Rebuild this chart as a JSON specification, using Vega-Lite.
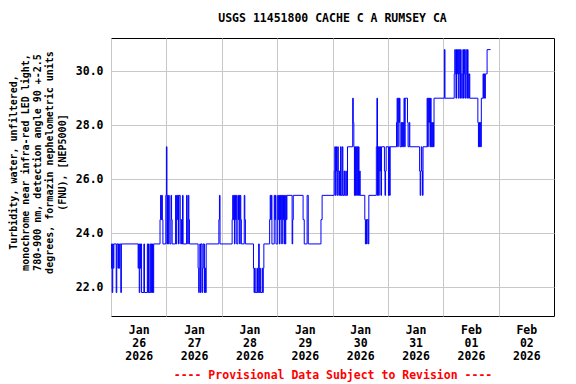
{
  "$schema": "https://vega.github.io/schema/vega-lite/v6.json",
  "width": 443,
  "height": 278,
  "autosize": {"type": "none"},
  "padding": {"left": 111, "top": 38, "right": 22, "bottom": 68},
  "background": "white",
  "config": {
    "view": {"stroke": "black", "strokeWidth": 1},
    "font": "DejaVu Sans Mono"
  },
  "title": {
    "text": "USGS 11451800 CACHE C A RUMSEY CA",
    "font": "DejaVu Sans Mono",
    "fontSize": 11.5,
    "fontWeight": "bold",
    "color": "black",
    "anchor": "middle",
    "offset": 14
  },
  "data": {
    "values": [
      {"t": "2026-01-26T00:00", "v": 22.7},
      {"t": "2026-01-26T00:15", "v": 23.6},
      {"t": "2026-01-26T00:30", "v": 21.8},
      {"t": "2026-01-26T00:45", "v": 23.6},
      {"t": "2026-01-26T01:00", "v": 22.7},
      {"t": "2026-01-26T01:15", "v": 23.6},
      {"t": "2026-01-26T02:15", "v": 21.8},
      {"t": "2026-01-26T02:30", "v": 23.6},
      {"t": "2026-01-26T03:00", "v": 22.7},
      {"t": "2026-01-26T03:15", "v": 23.6},
      {"t": "2026-01-26T03:30", "v": 22.7},
      {"t": "2026-01-26T03:45", "v": 23.6},
      {"t": "2026-01-26T04:15", "v": 21.8},
      {"t": "2026-01-26T04:30", "v": 23.6},
      {"t": "2026-01-26T11:45", "v": 22.7},
      {"t": "2026-01-26T12:00", "v": 23.6},
      {"t": "2026-01-26T12:15", "v": 21.8},
      {"t": "2026-01-26T12:30", "v": 23.6},
      {"t": "2026-01-26T12:45", "v": 22.7},
      {"t": "2026-01-26T13:00", "v": 23.6},
      {"t": "2026-01-26T13:15", "v": 21.8},
      {"t": "2026-01-26T14:15", "v": 23.6},
      {"t": "2026-01-26T14:30", "v": 21.8},
      {"t": "2026-01-26T15:45", "v": 23.6},
      {"t": "2026-01-26T16:00", "v": 21.8},
      {"t": "2026-01-26T16:15", "v": 23.6},
      {"t": "2026-01-26T16:30", "v": 21.8},
      {"t": "2026-01-26T17:00", "v": 23.6},
      {"t": "2026-01-26T17:15", "v": 21.8},
      {"t": "2026-01-26T17:30", "v": 23.6},
      {"t": "2026-01-26T17:45", "v": 21.8},
      {"t": "2026-01-26T18:00", "v": 23.6},
      {"t": "2026-01-26T18:15", "v": 21.8},
      {"t": "2026-01-26T18:30", "v": 23.6},
      {"t": "2026-01-26T21:15", "v": 24.5},
      {"t": "2026-01-26T21:30", "v": 25.4},
      {"t": "2026-01-26T21:45", "v": 24.5},
      {"t": "2026-01-26T22:00", "v": 25.4},
      {"t": "2026-01-26T22:15", "v": 24.5},
      {"t": "2026-01-26T22:30", "v": 23.6},
      {"t": "2026-01-26T23:45", "v": 25.4},
      {"t": "2026-01-27T00:00", "v": 27.2},
      {"t": "2026-01-27T00:15", "v": 23.6},
      {"t": "2026-01-27T00:30", "v": 25.4},
      {"t": "2026-01-27T00:45", "v": 23.6},
      {"t": "2026-01-27T01:00", "v": 25.4},
      {"t": "2026-01-27T01:15", "v": 24.5},
      {"t": "2026-01-27T01:30", "v": 23.6},
      {"t": "2026-01-27T02:00", "v": 25.4},
      {"t": "2026-01-27T02:15", "v": 24.5},
      {"t": "2026-01-27T02:30", "v": 23.6},
      {"t": "2026-01-27T04:00", "v": 25.4},
      {"t": "2026-01-27T04:15", "v": 23.6},
      {"t": "2026-01-27T04:30", "v": 25.4},
      {"t": "2026-01-27T04:45", "v": 24.5},
      {"t": "2026-01-27T05:00", "v": 25.4},
      {"t": "2026-01-27T05:15", "v": 23.6},
      {"t": "2026-01-27T05:30", "v": 25.4},
      {"t": "2026-01-27T06:00", "v": 24.5},
      {"t": "2026-01-27T06:15", "v": 23.6},
      {"t": "2026-01-27T06:30", "v": 24.5},
      {"t": "2026-01-27T06:45", "v": 23.6},
      {"t": "2026-01-27T07:00", "v": 25.4},
      {"t": "2026-01-27T07:15", "v": 23.6},
      {"t": "2026-01-27T08:45", "v": 25.4},
      {"t": "2026-01-27T09:00", "v": 24.5},
      {"t": "2026-01-27T09:15", "v": 23.6},
      {"t": "2026-01-27T09:30", "v": 25.4},
      {"t": "2026-01-27T09:45", "v": 24.5},
      {"t": "2026-01-27T10:00", "v": 23.6},
      {"t": "2026-01-27T13:45", "v": 22.7},
      {"t": "2026-01-27T14:00", "v": 21.8},
      {"t": "2026-01-27T14:15", "v": 22.7},
      {"t": "2026-01-27T14:30", "v": 23.6},
      {"t": "2026-01-27T14:45", "v": 21.8},
      {"t": "2026-01-27T15:00", "v": 23.6},
      {"t": "2026-01-27T15:30", "v": 21.8},
      {"t": "2026-01-27T15:45", "v": 22.7},
      {"t": "2026-01-27T16:00", "v": 23.6},
      {"t": "2026-01-27T16:30", "v": 21.8},
      {"t": "2026-01-27T16:45", "v": 22.7},
      {"t": "2026-01-27T17:00", "v": 21.8},
      {"t": "2026-01-27T17:15", "v": 23.6},
      {"t": "2026-01-27T22:45", "v": 24.5},
      {"t": "2026-01-27T23:00", "v": 25.4},
      {"t": "2026-01-27T23:15", "v": 23.6},
      {"t": "2026-01-28T04:30", "v": 24.5},
      {"t": "2026-01-28T04:45", "v": 25.4},
      {"t": "2026-01-28T05:00", "v": 24.5},
      {"t": "2026-01-28T05:15", "v": 25.4},
      {"t": "2026-01-28T05:30", "v": 23.6},
      {"t": "2026-01-28T05:45", "v": 25.4},
      {"t": "2026-01-28T06:00", "v": 24.5},
      {"t": "2026-01-28T06:15", "v": 25.4},
      {"t": "2026-01-28T06:30", "v": 23.6},
      {"t": "2026-01-28T07:00", "v": 25.4},
      {"t": "2026-01-28T07:15", "v": 24.5},
      {"t": "2026-01-28T07:30", "v": 25.4},
      {"t": "2026-01-28T07:45", "v": 23.6},
      {"t": "2026-01-28T08:00", "v": 25.4},
      {"t": "2026-01-28T08:15", "v": 24.5},
      {"t": "2026-01-28T08:30", "v": 23.6},
      {"t": "2026-01-28T09:45", "v": 25.4},
      {"t": "2026-01-28T10:00", "v": 24.5},
      {"t": "2026-01-28T10:15", "v": 23.6},
      {"t": "2026-01-28T13:45", "v": 22.7},
      {"t": "2026-01-28T14:00", "v": 21.8},
      {"t": "2026-01-28T14:15", "v": 22.7},
      {"t": "2026-01-28T14:30", "v": 21.8},
      {"t": "2026-01-28T15:15", "v": 22.7},
      {"t": "2026-01-28T15:30", "v": 21.8},
      {"t": "2026-01-28T16:00", "v": 23.6},
      {"t": "2026-01-28T16:15", "v": 21.8},
      {"t": "2026-01-28T16:30", "v": 22.7},
      {"t": "2026-01-28T16:45", "v": 21.8},
      {"t": "2026-01-28T17:30", "v": 22.7},
      {"t": "2026-01-28T17:45", "v": 21.8},
      {"t": "2026-01-28T18:00", "v": 22.7},
      {"t": "2026-01-28T18:15", "v": 23.6},
      {"t": "2026-01-28T20:45", "v": 24.5},
      {"t": "2026-01-28T21:00", "v": 25.4},
      {"t": "2026-01-28T21:15", "v": 24.5},
      {"t": "2026-01-28T21:30", "v": 25.4},
      {"t": "2026-01-28T21:45", "v": 23.6},
      {"t": "2026-01-28T22:45", "v": 25.4},
      {"t": "2026-01-28T23:00", "v": 24.5},
      {"t": "2026-01-28T23:15", "v": 25.4},
      {"t": "2026-01-28T23:30", "v": 23.6},
      {"t": "2026-01-29T00:15", "v": 25.4},
      {"t": "2026-01-29T00:30", "v": 24.5},
      {"t": "2026-01-29T00:45", "v": 25.4},
      {"t": "2026-01-29T01:00", "v": 23.6},
      {"t": "2026-01-29T01:15", "v": 25.4},
      {"t": "2026-01-29T01:30", "v": 24.5},
      {"t": "2026-01-29T01:45", "v": 25.4},
      {"t": "2026-01-29T02:00", "v": 23.6},
      {"t": "2026-01-29T02:15", "v": 25.4},
      {"t": "2026-01-29T02:30", "v": 24.5},
      {"t": "2026-01-29T02:45", "v": 25.4},
      {"t": "2026-01-29T03:00", "v": 23.6},
      {"t": "2026-01-29T03:15", "v": 25.4},
      {"t": "2026-01-29T03:30", "v": 23.6},
      {"t": "2026-01-29T03:45", "v": 25.4},
      {"t": "2026-01-29T04:00", "v": 24.5},
      {"t": "2026-01-29T04:15", "v": 25.4},
      {"t": "2026-01-29T06:30", "v": 23.6},
      {"t": "2026-01-29T06:45", "v": 24.5},
      {"t": "2026-01-29T07:00", "v": 25.4},
      {"t": "2026-01-29T11:15", "v": 24.5},
      {"t": "2026-01-29T11:45", "v": 23.6},
      {"t": "2026-01-29T13:00", "v": 25.4},
      {"t": "2026-01-29T13:30", "v": 23.6},
      {"t": "2026-01-29T19:00", "v": 24.5},
      {"t": "2026-01-29T19:30", "v": 25.4},
      {"t": "2026-01-30T00:45", "v": 26.3},
      {"t": "2026-01-30T01:00", "v": 27.2},
      {"t": "2026-01-30T01:15", "v": 25.4},
      {"t": "2026-01-30T01:30", "v": 27.2},
      {"t": "2026-01-30T01:45", "v": 26.3},
      {"t": "2026-01-30T02:00", "v": 25.4},
      {"t": "2026-01-30T02:15", "v": 27.2},
      {"t": "2026-01-30T02:30", "v": 26.3},
      {"t": "2026-01-30T02:45", "v": 25.4},
      {"t": "2026-01-30T03:00", "v": 26.3},
      {"t": "2026-01-30T03:15", "v": 25.4},
      {"t": "2026-01-30T03:30", "v": 27.2},
      {"t": "2026-01-30T03:45", "v": 25.4},
      {"t": "2026-01-30T04:15", "v": 27.2},
      {"t": "2026-01-30T04:30", "v": 25.4},
      {"t": "2026-01-30T05:00", "v": 26.3},
      {"t": "2026-01-30T05:15", "v": 25.4},
      {"t": "2026-01-30T05:45", "v": 26.3},
      {"t": "2026-01-30T06:00", "v": 25.4},
      {"t": "2026-01-30T06:30", "v": 27.2},
      {"t": "2026-01-30T08:45", "v": 29.0},
      {"t": "2026-01-30T09:00", "v": 28.1},
      {"t": "2026-01-30T09:15", "v": 27.2},
      {"t": "2026-01-30T09:30", "v": 25.4},
      {"t": "2026-01-30T09:45", "v": 27.2},
      {"t": "2026-01-30T10:00", "v": 25.4},
      {"t": "2026-01-30T10:15", "v": 27.2},
      {"t": "2026-01-30T10:30", "v": 25.4},
      {"t": "2026-01-30T10:45", "v": 27.2},
      {"t": "2026-01-30T11:00", "v": 25.4},
      {"t": "2026-01-30T11:15", "v": 27.2},
      {"t": "2026-01-30T11:30", "v": 25.4},
      {"t": "2026-01-30T11:45", "v": 26.3},
      {"t": "2026-01-30T12:00", "v": 25.4},
      {"t": "2026-01-30T14:00", "v": 24.5},
      {"t": "2026-01-30T14:15", "v": 23.6},
      {"t": "2026-01-30T14:30", "v": 24.5},
      {"t": "2026-01-30T14:45", "v": 23.6},
      {"t": "2026-01-30T15:00", "v": 24.5},
      {"t": "2026-01-30T15:30", "v": 23.6},
      {"t": "2026-01-30T15:45", "v": 25.4},
      {"t": "2026-01-30T19:00", "v": 27.2},
      {"t": "2026-01-30T19:15", "v": 29.0},
      {"t": "2026-01-30T19:30", "v": 25.4},
      {"t": "2026-01-30T19:45", "v": 27.2},
      {"t": "2026-01-30T20:00", "v": 25.4},
      {"t": "2026-01-30T20:15", "v": 27.2},
      {"t": "2026-01-30T20:30", "v": 26.3},
      {"t": "2026-01-30T20:45", "v": 27.2},
      {"t": "2026-01-30T21:00", "v": 25.4},
      {"t": "2026-01-30T21:15", "v": 27.2},
      {"t": "2026-01-30T22:30", "v": 26.3},
      {"t": "2026-01-30T22:45", "v": 25.4},
      {"t": "2026-01-30T23:00", "v": 26.3},
      {"t": "2026-01-30T23:15", "v": 27.2},
      {"t": "2026-01-31T00:15", "v": 25.4},
      {"t": "2026-01-31T00:30", "v": 27.2},
      {"t": "2026-01-31T00:45", "v": 25.4},
      {"t": "2026-01-31T01:00", "v": 27.2},
      {"t": "2026-01-31T03:45", "v": 28.1},
      {"t": "2026-01-31T04:00", "v": 29.0},
      {"t": "2026-01-31T04:15", "v": 27.2},
      {"t": "2026-01-31T04:30", "v": 29.0},
      {"t": "2026-01-31T04:45", "v": 28.1},
      {"t": "2026-01-31T05:00", "v": 29.0},
      {"t": "2026-01-31T05:15", "v": 27.2},
      {"t": "2026-01-31T05:45", "v": 28.1},
      {"t": "2026-01-31T06:00", "v": 27.2},
      {"t": "2026-01-31T06:15", "v": 28.1},
      {"t": "2026-01-31T06:30", "v": 27.2},
      {"t": "2026-01-31T06:45", "v": 28.1},
      {"t": "2026-01-31T07:00", "v": 29.0},
      {"t": "2026-01-31T07:15", "v": 27.2},
      {"t": "2026-01-31T07:30", "v": 29.0},
      {"t": "2026-01-31T08:30", "v": 28.1},
      {"t": "2026-01-31T08:45", "v": 27.2},
      {"t": "2026-01-31T09:15", "v": 28.1},
      {"t": "2026-01-31T09:30", "v": 27.2},
      {"t": "2026-01-31T13:45", "v": 26.3},
      {"t": "2026-01-31T14:00", "v": 25.4},
      {"t": "2026-01-31T14:15", "v": 26.3},
      {"t": "2026-01-31T14:30", "v": 27.2},
      {"t": "2026-01-31T14:45", "v": 26.3},
      {"t": "2026-01-31T15:00", "v": 25.4},
      {"t": "2026-01-31T15:15", "v": 27.2},
      {"t": "2026-01-31T17:00", "v": 29.0},
      {"t": "2026-01-31T17:15", "v": 27.2},
      {"t": "2026-01-31T17:30", "v": 29.0},
      {"t": "2026-01-31T17:45", "v": 28.1},
      {"t": "2026-01-31T18:00", "v": 29.0},
      {"t": "2026-01-31T18:15", "v": 27.2},
      {"t": "2026-01-31T18:30", "v": 29.0},
      {"t": "2026-01-31T18:45", "v": 27.2},
      {"t": "2026-01-31T19:00", "v": 28.1},
      {"t": "2026-01-31T19:15", "v": 27.2},
      {"t": "2026-01-31T19:30", "v": 28.1},
      {"t": "2026-01-31T19:45", "v": 27.2},
      {"t": "2026-01-31T20:00", "v": 29.0},
      {"t": "2026-02-01T00:30", "v": 30.8},
      {"t": "2026-02-01T00:45", "v": 29.0},
      {"t": "2026-02-01T04:45", "v": 29.9},
      {"t": "2026-02-01T05:00", "v": 30.8},
      {"t": "2026-02-01T05:15", "v": 29.9},
      {"t": "2026-02-01T05:30", "v": 29.0},
      {"t": "2026-02-01T05:45", "v": 30.8},
      {"t": "2026-02-01T06:00", "v": 29.9},
      {"t": "2026-02-01T06:15", "v": 30.8},
      {"t": "2026-02-01T06:30", "v": 29.0},
      {"t": "2026-02-01T06:45", "v": 30.8},
      {"t": "2026-02-01T07:00", "v": 29.9},
      {"t": "2026-02-01T07:15", "v": 29.0},
      {"t": "2026-02-01T07:30", "v": 30.8},
      {"t": "2026-02-01T07:45", "v": 29.9},
      {"t": "2026-02-01T08:00", "v": 29.0},
      {"t": "2026-02-01T08:15", "v": 29.9},
      {"t": "2026-02-01T08:30", "v": 30.8},
      {"t": "2026-02-01T08:45", "v": 29.0},
      {"t": "2026-02-01T09:00", "v": 30.8},
      {"t": "2026-02-01T09:15", "v": 29.9},
      {"t": "2026-02-01T09:30", "v": 29.0},
      {"t": "2026-02-01T09:45", "v": 30.8},
      {"t": "2026-02-01T10:00", "v": 29.9},
      {"t": "2026-02-01T10:15", "v": 29.0},
      {"t": "2026-02-01T10:30", "v": 30.8},
      {"t": "2026-02-01T10:45", "v": 29.9},
      {"t": "2026-02-01T11:00", "v": 29.0},
      {"t": "2026-02-01T11:15", "v": 29.9},
      {"t": "2026-02-01T11:30", "v": 29.0},
      {"t": "2026-02-01T15:00", "v": 28.1},
      {"t": "2026-02-01T15:15", "v": 27.2},
      {"t": "2026-02-01T15:30", "v": 28.1},
      {"t": "2026-02-01T15:45", "v": 27.2},
      {"t": "2026-02-01T16:00", "v": 28.1},
      {"t": "2026-02-01T16:15", "v": 27.2},
      {"t": "2026-02-01T16:30", "v": 29.0},
      {"t": "2026-02-01T17:15", "v": 29.9},
      {"t": "2026-02-01T17:30", "v": 29.0},
      {"t": "2026-02-01T17:45", "v": 29.9},
      {"t": "2026-02-01T18:00", "v": 29.0},
      {"t": "2026-02-01T18:15", "v": 29.9},
      {"t": "2026-02-01T19:00", "v": 30.8},
      {"t": "2026-02-01T20:30", "v": 30.8}
    ]
  },
  "mark": {"type": "line", "interpolate": "step-after", "color": "#0000ff", "strokeWidth": 1, "clip": true},
  "encoding": {
    "x": {
      "field": "t",
      "type": "temporal",
      "scale": {"domain": [{"year": 2026, "month": 1, "date": 26}, {"year": 2026, "month": 2, "date": 3}]},
      "axis": {
        "values": [
          {"year": 2026, "month": 1, "date": 26},
          {"year": 2026, "month": 1, "date": 27},
          {"year": 2026, "month": 1, "date": 28},
          {"year": 2026, "month": 1, "date": 29},
          {"year": 2026, "month": 1, "date": 30},
          {"year": 2026, "month": 1, "date": 31},
          {"year": 2026, "month": 2, "date": 1},
          {"year": 2026, "month": 2, "date": 2}
        ],
        "labelExpr": "[timeFormat(datum.value, '%b'), timeFormat(datum.value, '%d'), timeFormat(datum.value, '%Y')]",
        "labelOffset": 27.7,
        "labelFont": "DejaVu Sans Mono",
        "labelFontWeight": "bold",
        "labelFontSize": 11.5,
        "labelColor": "black",
        "labelLineHeight": 13,
        "labelPadding": 8,
        "labelOverlap": false,
        "labelFlush": false,
        "labelBound": false,
        "ticks": false,
        "domain": false,
        "grid": true,
        "gridColor": "#c8c8c8",
        "gridWidth": 1,
        "title": "---- Provisional Data Subject to Revision ----",
        "titleFont": "DejaVu Sans Mono",
        "titleFontWeight": "bold",
        "titleFontSize": 11.5,
        "titleColor": "#ff0000",
        "titleY": 59,
        "titleBaseline": "middle"
      }
    },
    "y": {
      "field": "v",
      "type": "quantitative",
      "scale": {"domain": [20.93, 31.23], "nice": false, "zero": false},
      "axis": {
        "values": [22, 24, 26, 28, 30],
        "format": ".1f",
        "labelFont": "DejaVu Sans Mono",
        "labelFontWeight": "bold",
        "labelFontSize": 11.5,
        "labelColor": "black",
        "labelPadding": 8,
        "ticks": false,
        "domain": false,
        "grid": true,
        "gridColor": "#c8c8c8",
        "gridWidth": 1,
        "title": ["Turbidity, water, unfiltered,", "monochrome near infra-red LED light,", "780-900 nm, detection angle 90 +-2.5", "degrees, formazin nephelometric units", "(FNU), [NEP5000]"],
        "titleFont": "DejaVu Sans Mono",
        "titleFontWeight": "bold",
        "titleFontSize": 10,
        "titleColor": "black",
        "titleLineHeight": 12.3,
        "titleAngle": -90,
        "titleAlign": "center",
        "titleBaseline": "middle",
        "titleX": -98,
        "titleY": 124
      }
    }
  }
}
